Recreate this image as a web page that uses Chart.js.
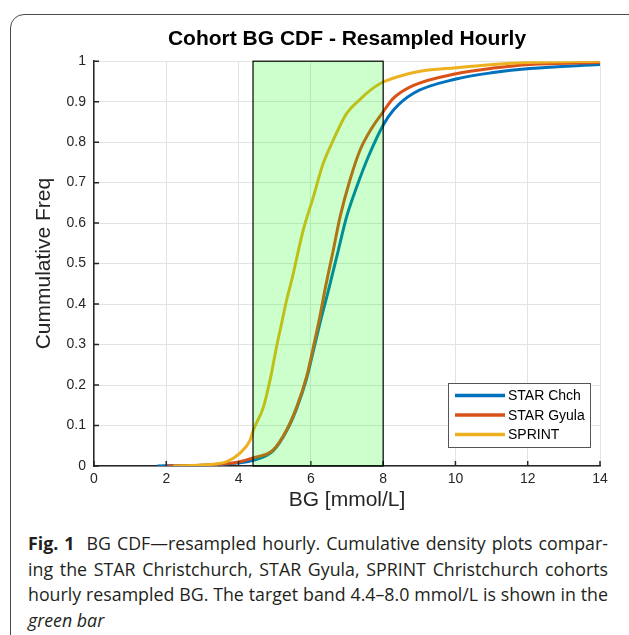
<!DOCTYPE html>
<html>
<head>
<meta charset="utf-8">
<script src="https://cdn.jsdelivr.net/npm/chart.js@4.4.1/dist/chart.umd.min.js"></script>
<style>
  html, body { margin: 0; padding: 0; background: #fff; }
  body { width: 629px; height: 635px; position: relative; overflow: hidden; }
  .frame {
    position: absolute; left: 10px; top: 14px; width: 640px; height: 650px;
    border: 1.5px solid #4a4a4a; border-radius: 14px; box-sizing: border-box;
  }
  .chart-wrap { position: absolute; left: 0; top: 0; width: 629px; height: 525px; }
  .caption {
    position: absolute; left: 28px; top: 531px; width: 580px;
    font-family: "Open Sans", "Noto Sans", sans-serif; font-size: 17.8px;
    color: #231f20; line-height: 25.5px;
  }
  .caption div { text-align: justify; text-align-last: justify; white-space: nowrap; }
  .caption div.last { text-align-last: left; }
  .caption b { font-weight: 700; }
</style>
</head>
<body>
<div class="frame"></div>
<div class="chart-wrap"><canvas id="cdfChart" width="629" height="525"></canvas></div>
<div class="caption">
  <div><b>Fig. 1</b>&nbsp; BG CDF—resampled hourly. Cumulative density plots compar-</div>
  <div>ing the STAR Christchurch, STAR Gyula, SPRINT Christchurch cohorts</div>
  <div>hourly resampled BG. The target band 4.4–8.0 mmol/L is shown in the</div>
  <div class="last"><i>green bar</i></div>
</div>
<script>
// values
const seriesLabels = ['STAR Chch', 'STAR Gyula', 'SPRINT'];

const chchBG   = [1.75, 2.5, 3.0, 3.5, 4.0, 4.4, 4.96, 5.33, 5.61, 5.88, 6.07, 6.25, 6.49, 6.76, 6.99, 7.27, 7.59, 8.0, 8.28, 8.84, 10.02, 11.05, 12.06, 14.0];
const chchFreq = [0, 0.001, 0.002, 0.004, 0.008, 0.014, 0.038, 0.087, 0.143, 0.215, 0.285, 0.352, 0.435, 0.533, 0.616, 0.690, 0.764, 0.842, 0.879, 0.921, 0.956, 0.972, 0.982, 0.992];

const gyulaBG   = [2.0, 3.0, 3.5, 4.0, 4.4, 4.96, 5.33, 5.61, 5.88, 6.07, 6.25, 6.39, 6.62, 6.81, 7.08, 7.36, 7.68, 8.0, 8.28, 8.84, 10.02, 11.05, 12.06, 14.0];
const gyulaFreq = [0, 0.002, 0.005, 0.010, 0.020, 0.040, 0.089, 0.146, 0.220, 0.294, 0.369, 0.435, 0.533, 0.616, 0.706, 0.780, 0.834, 0.875, 0.908, 0.940, 0.969, 0.983, 0.992, 0.997];

const sprintBG   = [2.2, 3.12, 3.67, 4.04, 4.32, 4.41, 4.69, 4.87, 5.05, 5.19, 5.33, 5.47, 5.79, 6.07, 6.34, 6.62, 6.99, 7.34, 7.64, 7.92, 8.38, 9.02, 10.02, 11.05, 12.06, 14.0];
const sprintFreq = [0, 0.003, 0.011, 0.032, 0.064, 0.089, 0.146, 0.212, 0.294, 0.352, 0.410, 0.459, 0.583, 0.665, 0.747, 0.805, 0.871, 0.904, 0.928, 0.945, 0.961, 0.975, 0.984, 0.992, 0.997, 1.0];

const xTicks = [0, 2, 4, 6, 8, 10, 12, 14];
const yTicks = [0, 0.1, 0.2, 0.3, 0.4, 0.5, 0.6, 0.7, 0.8, 0.9, 1];
const targetBand = [4.4, 8.0];

const FONT = '"Liberation Sans", Arial, Helvetica, sans-serif';
const INK = '#262626';

function toPoints(xs, ys) {
    return xs.map((x, i) => ({ x: x, y: ys[i] }));
}

// MATLAB style ticks pointing into the axes, then the target band on top of the curves
const innerTicks = {
    id: 'innerTicks',
    afterDatasetsDraw(chart) {
        const { ctx, chartArea, scales } = chart;
        ctx.save();
        ctx.strokeStyle = INK;
        ctx.lineWidth = 1.5;
        ctx.beginPath();
        scales.x.ticks.forEach(t => {
            const px = scales.x.getPixelForValue(t.value);
            ctx.moveTo(px, chartArea.bottom);
            ctx.lineTo(px, chartArea.bottom - 5);
        });
        scales.y.ticks.forEach(t => {
            const py = scales.y.getPixelForValue(t.value);
            ctx.moveTo(chartArea.left, py);
            ctx.lineTo(chartArea.left + 5, py);
        });
        ctx.stroke();

        const x1 = scales.x.getPixelForValue(targetBand[0]);
        const x2 = scales.x.getPixelForValue(targetBand[1]);
        const y1 = scales.y.getPixelForValue(1);
        const y2 = scales.y.getPixelForValue(0);
        ctx.fillStyle = 'rgba(0, 255, 0, 0.2)';
        ctx.fillRect(x1, y1, x2 - x1, y2 - y1);
        ctx.strokeStyle = '#000';
        ctx.lineWidth = 1.2;
        ctx.strokeRect(x1, y1, x2 - x1, y2 - y1);
        ctx.restore();
    }
};

const boxLegend = {
    id: 'boxLegend',
    afterDraw(chart) {
        const { ctx, chartArea } = chart;
        const w = 142, h = 64;
        const left = chartArea.right - 10 - w;
        const top = chartArea.bottom - 19 - h;
        ctx.save();
        ctx.fillStyle = '#fff';
        ctx.fillRect(left, top, w, h);
        ctx.strokeStyle = '#555';
        ctx.lineWidth = 1;
        ctx.strokeRect(left + 0.5, top + 0.5, w, h);
        ctx.font = '14px ' + FONT;
        ctx.textBaseline = 'middle';
        chart.data.datasets.forEach((ds, i) => {
            const y = top + 12.5 + i * 19.5;
            ctx.strokeStyle = ds.borderColor;
            ctx.lineWidth = 3.5;
            ctx.beginPath();
            ctx.moveTo(left + 7, y);
            ctx.lineTo(left + 57, y);
            ctx.stroke();
            ctx.fillStyle = '#000';
            ctx.fillText(ds.label, left + 60, y + 1);
        });
        ctx.restore();
    }
};

const ctx = document.getElementById('cdfChart').getContext('2d');
new Chart(ctx, {
    type: 'line',
    data: {
        datasets: [
            { label: seriesLabels[0], data: toPoints(chchBG, chchFreq), borderColor: '#0072BD', order: 3 },
            { label: seriesLabels[1], data: toPoints(gyulaBG, gyulaFreq), borderColor: '#D95319', order: 2 },
            { label: seriesLabels[2], data: toPoints(sprintBG, sprintFreq), borderColor: '#EDB120', order: 1 }
        ]
    },
    options: {
        responsive: false,
        animation: false,
        events: [],
        layout: { padding: { left: 0, right: 29, top: 0, bottom: 0 } },
        elements: {
            point: { radius: 0 },
            line: { borderWidth: 3, cubicInterpolationMode: 'monotone' }
        },
        plugins: {
            legend: { display: false },
            tooltip: { enabled: false },
            title: {
                display: true,
                text: 'Cohort BG CDF - Resampled Hourly',
                color: '#000',
                fullSize: false,
                font: { family: FONT, size: 21, weight: 'bold', lineHeight: 1.2 },
                padding: { top: 27, bottom: 9 }
            }
        },
        scales: {
            x: {
                type: 'linear', min: 0, max: 14,
                afterBuildTicks: s => { s.ticks = xTicks.map(v => ({ value: v })); },
                afterFit: s => { s.height = 59; },
                grid: { color: '#e3e3e3', lineWidth: 1, drawTicks: false },
                border: { display: true, color: INK, width: 1.5 },
                ticks: { color: INK, padding: 5, maxRotation: 0, font: { family: FONT, size: 14 }, callback: v => String(v) },
                title: { display: true, text: 'BG [mmol/L]', color: INK, font: { family: FONT, size: 21, lineHeight: 1.2 }, padding: { top: 0, bottom: 12 } }
            },
            y: {
                type: 'linear', min: 0, max: 1,
                afterBuildTicks: s => { s.ticks = yTicks.map(v => ({ value: v })); },
                afterFit: s => { s.width = 94; },
                grid: { color: '#e3e3e3', lineWidth: 1, drawTicks: false },
                border: { display: true, color: INK, width: 1.5 },
                ticks: { color: INK, padding: 8, font: { family: FONT, size: 14 }, callback: v => String(v) },
                title: { display: true, text: 'Cummulative Freq', color: INK, font: { family: FONT, size: 21, lineHeight: 1.2 }, padding: { top: 32, bottom: 0 } }
            }
        }
    },
    plugins: [innerTicks, boxLegend]
});
</script>
</body>
</html>
